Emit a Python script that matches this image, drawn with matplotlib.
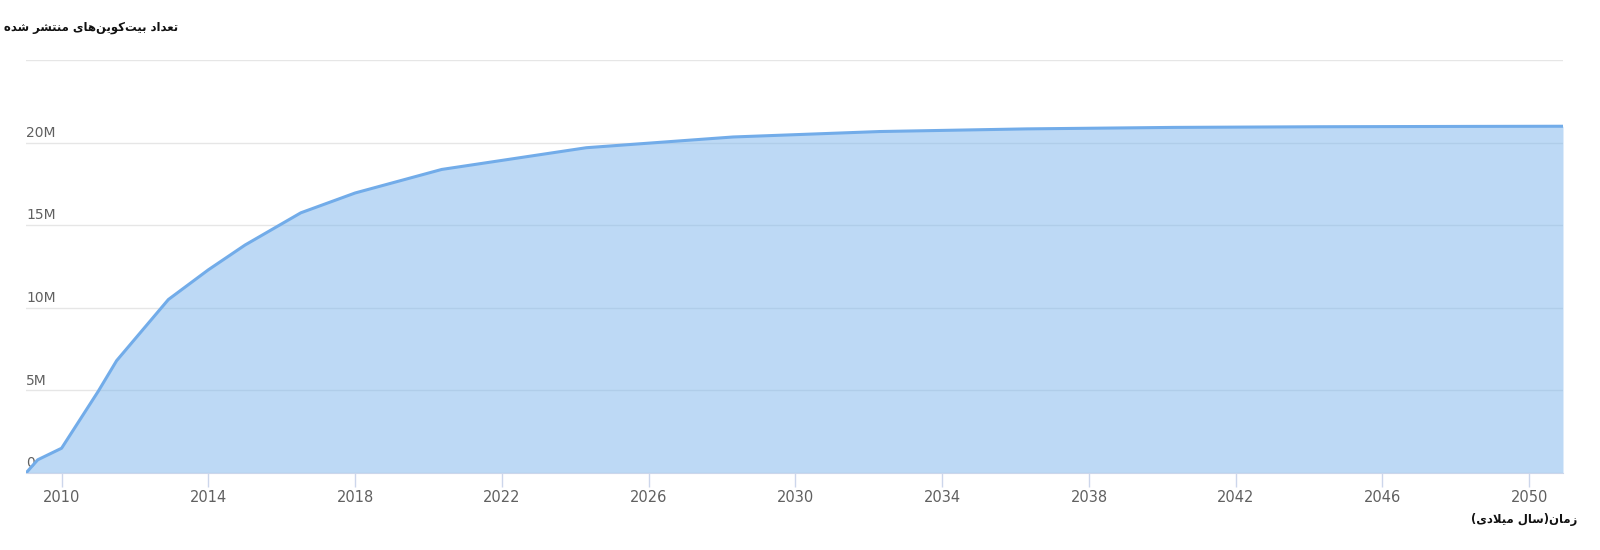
import matplotlib
matplotlib.use("Agg")
import matplotlib.pyplot as plt
import matplotlib.transforms as mtransforms

# Bitcoin supply (years, millions of coins)
years = [2009.03, 2009.35, 2010.0, 2011.0, 2011.5, 2012.91, 2014.0, 2015.0,
         2016.52, 2018.0, 2020.36, 2024.3, 2028.3, 2032.3, 2036.3, 2040.3,
         2044.3, 2048.3, 2050.92]
supply_m = [0.0, 0.8, 1.5, 4.95, 6.8, 10.5, 12.3, 13.8, 15.75, 16.95,
            18.375, 19.69, 20.34, 20.67, 20.83, 20.92, 20.96, 20.98, 20.99]

x_ticks = list(range(2010, 2051, 4))
y_ticks = [0, 5, 10, 15, 20, 25]
y_tick_labels = ["0", "5M", "10M", "15M", "20M", ""]

title_text = "تعداد بیت\u200cکوین\u200cهای منتشر شده"
xlabel_text = "زمان(سال میلادی)"

# --- minimal Arabic/Persian shaping (matplotlib has no text shaping) ---
# forms: (isolated, final, initial, medial); right-joining letters have only two
FORMS = {
    "ا": (0xFE8D, 0xFE8E), "د": (0xFEA9, 0xFEAA), "ر": (0xFEAD, 0xFEAE),
    "ز": (0xFEAF, 0xFEB0), "و": (0xFEED, 0xFEEE),
    "ب": (0xFE8F, 0xFE90, 0xFE91, 0xFE92), "ت": (0xFE95, 0xFE96, 0xFE97, 0xFE98),
    "س": (0xFEB1, 0xFEB2, 0xFEB3, 0xFEB4), "ش": (0xFEB5, 0xFEB6, 0xFEB7, 0xFEB8),
    "ع": (0xFEC9, 0xFECA, 0xFECB, 0xFECC), "ل": (0xFEDD, 0xFEDE, 0xFEDF, 0xFEE0),
    "م": (0xFEE1, 0xFEE2, 0xFEE3, 0xFEE4), "ن": (0xFEE5, 0xFEE6, 0xFEE7, 0xFEE8),
    "ه": (0xFEE9, 0xFEEA, 0xFEEB, 0xFEEC), "ک": (0xFB8E, 0xFB8F, 0xFB90, 0xFB91),
    "ی": (0xFBFC, 0xFBFD, 0xFBFE, 0xFBFF),
}
MIRROR = {"(": ")", ")": "("}


def shape_rtl(text):
    # merge lam + alef
    chars = []
    i = 0
    while i < len(text):
        if text[i] == "ل" and i + 1 < len(text) and text[i + 1] == "ا":
            chars.append("لا")
            i += 2
        else:
            chars.append(text[i])
            i += 1
    out = []
    for k, c in enumerate(chars):
        prev = chars[k - 1] if k > 0 else None
        nxt = chars[k + 1] if k + 1 < len(chars) else None
        joins_prev = prev in FORMS and len(FORMS[prev]) == 4
        if c == "لا":
            out.append(chr(0xFEFC if joins_prev else 0xFEFB))
            continue
        if c not in FORMS:
            if c == "\u200c":
                continue
            out.append(MIRROR.get(c, c))
            continue
        f = FORMS[c]
        joins_next = len(f) == 4 and nxt is not None and (nxt in FORMS or nxt == "لا")
        if joins_prev and joins_next:
            out.append(chr(f[3]))
        elif joins_prev:
            out.append(chr(f[1]))
        elif joins_next:
            out.append(chr(f[2]))
        else:
            out.append(chr(f[0]))
    return "".join(reversed(out))


plt.rcParams['font.family'] = ['DejaVu Sans']

fig = plt.figure(figsize=(16, 5.5), dpi=100)
ax = fig.add_axes([26 / 1600, 1 - 473 / 550, (1563 - 26) / 1600, (473 - 60) / 550])

ax.fill_between(years, supply_m, color='#7cb5ec', alpha=0.5, linewidth=0, zorder=2)
ax.plot(years, supply_m, color='#72ace9', linewidth=2.2, zorder=3)

ax.set_xlim(years[0], years[-1])
ax.set_ylim(0, 25)
ax.set_xticks(x_ticks)
ax.set_yticks(y_ticks)
ax.set_yticklabels(y_tick_labels)
ax.grid(axis='y', color='#e6e6e6', linewidth=1)
ax.set_axisbelow(True)

for s in ['top', 'right', 'left']:
    ax.spines[s].set_visible(False)
ax.spines['bottom'].set_color('#ccd6eb')

ax.tick_params(axis='x', length=10, width=1, color='#ccd6eb', labelcolor='#606060',
               labelsize=10.5, pad=2)
ax.tick_params(axis='y', length=0, pad=0, labelcolor='#606060', labelsize=10)
offset = mtransforms.ScaledTranslation(0, 2 / 72, fig.dpi_scale_trans)
for lab in ax.get_yticklabels():
    lab.set_ha('left')
    lab.set_va('bottom')
    lab.set_transform(lab.get_transform() + offset)

fig.text(4 / 1600, 1 - 28 / 550, shape_rtl(title_text), ha='left', va='center',
         fontsize=8.4, fontweight='bold', color='#111111')
fig.text(1577 / 1600, 1 - 520 / 550, shape_rtl(xlabel_text), ha='right', va='center',
         fontsize=8.4, fontweight='bold', color='#111111')

fig.savefig('out.png', dpi=100)
